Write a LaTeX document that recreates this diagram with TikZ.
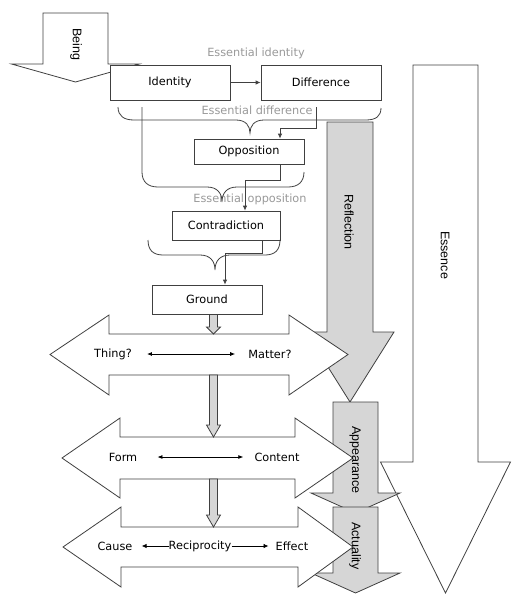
\documentclass[tikz,border=0pt]{standalone}
\usepackage{fontspec}
\setmainfont{DejaVu Sans}
\newfontfamily\labelfont{Liberation Sans}
\usetikzlibrary{arrows.meta}

\definecolor{linegray}{HTML}{404040}
\definecolor{fillgray}{HTML}{D6D6D6}
\definecolor{textgray}{HTML}{999999}

\tikzset{
	box/.style={draw=linegray,fill=white,line width=0.8pt,inner sep=0pt,font=\fontsize{11.3}{13}\selectfont},
	word/.style={inner sep=0pt,font=\fontsize{11.3}{13}\selectfont},
	note/.style={word,text=textgray},
	side label/.style={inner sep=0pt,rotate=-90,font=\labelfont\fontsize{12.5}{14}\selectfont},
	conn/.style={draw=linegray,line width=0.8pt,-{Latex[length=5pt,width=4.5pt]}},
	pair/.style={draw=black,line width=0.8pt,{Latex[length=5pt,width=4pt]}-{Latex[length=5pt,width=4pt]}},
	brace/.style={draw=linegray,line width=0.8pt},
	block/.style={draw=linegray,line width=0.8pt,line join=miter}
}

\begin{document}
\begin{tikzpicture}[x=1pt,y=-1pt]
	\useasboundingbox (0,0) rectangle (525,600);
	
	% big arrows: centre / half shaft / half head / top / shaft end / tip / fill
	\foreach \cx/\sw/\hw/\ty/\ey/\py/\fc in {445.5/32.5/65/65/462/593/white, 75.5/32.5/64/13/64/82/white, 350/23/44/122/332/402/fillgray, 355.5/22.5/44.5/402/493/513/fillgray, 355.5/22.5/44.5/507/573/593/fillgray} {
		\draw[block,fill=\fc] (\cx-\sw,\ty) -- (\cx+\sw,\ty) -- (\cx+\sw,\ey) -- (\cx+\hw,\ey) -- (\cx,\py) -- (\cx-\hw,\ey) -- (\cx-\sw,\ey) -- cycle;
	}
	
	% double arrows
	\foreach \lx/\lix/\rix/\rx/\hty/\sty/\sby/\hby in {50/109/289/348/315/334/375/395, 62/120/295/353/418/437/479/498, 63/121/298/353/507/527/567/587} {
		\draw[block,fill=white] (\lx,{(\sty+\sby)/2}) -- (\lix,\hty) -- (\lix,\sty) -- (\rix,\sty) -- (\rix,\hty) -- (\rx,{(\sty+\sby)/2}) -- (\rix,\hby) -- (\rix,\sby) -- (\lix,\sby) -- (\lix,\hby) -- cycle;
	}
	
	% small steps down
	\foreach \ty/\ey/\py in {314/327/334, 375/425/437, 479/515/527} {
		\draw[block,fill=fillgray] (209.5,\ty) -- (217.5,\ty) -- (217.5,\ey) -- (220.5,\ey) -- (213.5,\py) -- (206.5,\ey) -- (209.5,\ey) -- cycle;
	}
	
	\node[box,minimum width=120pt,minimum height=35pt] (Identity) at (170,82.5) {Identity};
	\node[box,minimum width=120pt,minimum height=35pt] (Difference) at (321,82.5) {Difference};
	\node[box,minimum width=110pt,minimum height=25pt] (Opposition) at (249,151.5) {Opposition};
	\node[box,minimum width=108pt,minimum height=29pt] (Contradiction) at (226,225.5) {Contradiction};
	\node[box,minimum width=110pt,minimum height=29pt] (Ground) at (207,299.5) {Ground};
	
	\node[note] (essid) at (256,53) {Essential identity};
	\node[note] (essdiff) at (257,110) {Essential difference};
	\node[note] (essopp) at (250,199) {Essential opposition};
	
	% braces
	\draw[brace] (118,107) .. controls (118,116) and (124,120) .. (134,120) -- (236,120) .. controls (246,120) and (250,126) .. (250,133) .. controls (250,126) and (254,120) .. (264,120) -- (366,120) .. controls (376,120) and (381,116) .. (381,108);
	\draw[brace] (142,107) -- (142,172) .. controls (142,182) and (148,187) .. (158,187) -- (207,187) .. controls (217,187) and (222,193) .. (222,202) .. controls (222,193) and (227,187) .. (237,187) -- (288,187) .. controls (298,187) and (304,182) .. (304,172);
	\draw[brace] (148,240) .. controls (148,250) and (153,255) .. (163,255) -- (200,255) .. controls (210,255) and (215,261) .. (215,270) .. controls (215,261) and (220,255) .. (230,255) -- (265,255) .. controls (275,255) and (280,250) .. (280,240);
	
	\coordinate (diffout) at (316,107);
	\draw[conn] (Identity) -- (Difference);
	\draw[conn] (diffout) -- ++(0,21) -| ([xshift=31pt]Opposition.north);
	\draw[conn] ([xshift=31pt]Opposition.south) -- ++(0,16) -| ([xshift=19pt]Contradiction.north);
	\draw[conn] ([xshift=36pt]Contradiction.south) -- ++(0,13) -| ([xshift=18pt]Ground.north);
	
	\node[word] (thing) at (113,354) {Thing?};
	\node[word] (matter) at (270,354) {Matter?};
	\draw[pair,shorten <=15pt,shorten >=13pt] (thing) -- (matter);
	
	\node[word] (form) at (123,457) {Form};
	\node[word] (content) at (277,457) {Content};
	\draw[pair,shorten <=20pt,shorten >=11pt] (form) -- (content);
	
	\node[word] (cause) at (115,546) {Cause};
	\node[word] (reciprocity) at (200,546) {Reciprocity};
	\node[word] (effect) at (292,546) {Effect};
	\draw[conn,draw=black,shorten >=9pt] (reciprocity) -- (cause);
	\draw[conn,draw=black,shorten >=7pt] (reciprocity) -- (effect);
	
	\node[side label] (being) at (76,44) {Being};
	\node[side label] (reflection) at (349,222) {Reflection};
	\node[side label] (essence) at (445,255) {Essence};
	\node[side label] (appearance) at (355,460) {Appearance};
	\node[side label] (actuality) at (355,546) {Actuality};
\end{tikzpicture}
\end{document}
